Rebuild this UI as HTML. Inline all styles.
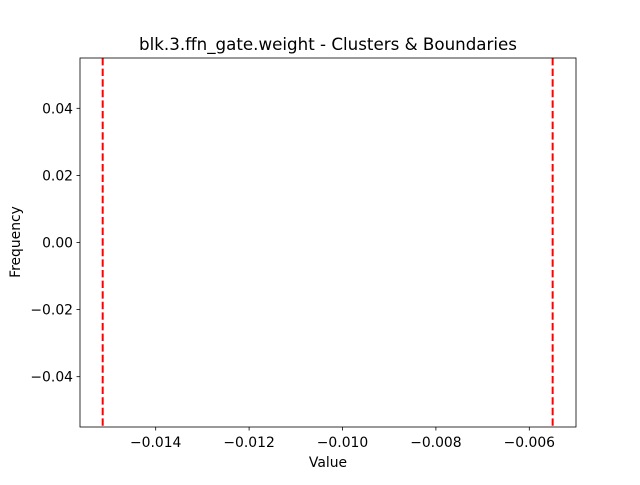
<!DOCTYPE html>
<html><head><meta charset="utf-8"><style>
body{margin:0;background:#fff}
svg text{font-family:"DejaVu Sans","Liberation Sans",sans-serif;fill:#000}
</style></head><body>
<svg id="chart" width="640" height="480" viewBox="0 0 640 480" xmlns="http://www.w3.org/2000/svg">
<rect width="640" height="480" fill="#fff"/>
<text x="328" y="50" font-size="16.7" text-anchor="middle">blk.3.ffn_gate.weight - Clusters &amp; Boundaries</text>
<g id="plot"></g>
<rect x="80" y="58" width="496" height="369" fill="none" stroke="#000" stroke-width="0.8"/>
<text x="328" y="467" font-size="13.9" text-anchor="middle">Value</text>
<text transform="translate(20,242) rotate(-90)" font-size="13.9" text-anchor="middle">Frequency</text>
</svg>
<script>
const xTicks=[-0.014,-0.012,-0.010,-0.008,-0.006];
const xTickLabels=["\u22120.014","\u22120.012","\u22120.010","\u22120.008","\u22120.006"];
const yTicks=[0.04,0.02,0.00,-0.02,-0.04];
const yTickLabels=["0.04","0.02","0.00","\u22120.02","\u22120.04"];
const boundaries=[-0.015135,-0.0055];
const xMin=-0.015621,xMax=-0.005,yMin=-0.055,yMax=0.055;
const L=80,R=576,T=58,B=427;
const xs=v=>L+(v-xMin)/(xMax-xMin)*(R-L);
const ys=v=>B-(v-yMin)/(yMax-yMin)*(B-T);
const g=document.getElementById('plot');
const NS="http://www.w3.org/2000/svg";
function mk(t,a){const e=document.createElementNS(NS,t);for(const k in a)e.setAttribute(k,a[k]);g.appendChild(e);return e;}
xTicks.forEach((v,i)=>{const x=xs(v);
const t=mk('line',{x1:x,x2:x,y1:B,y2:B+3.5,stroke:'#000','stroke-width':0.8});


const l=mk('text',{x:x,y:B+20,'font-size':13.9,'text-anchor':'middle'});l.textContent=xTickLabels[i];

});
yTicks.forEach((v,i)=>{const y=ys(v);
const t=mk('line',{x1:L-3.5,x2:L,y1:y,y2:y,stroke:'#000','stroke-width':0.8});


const l=mk('text',{x:L-7,y:y+5,'font-size':13.9,'text-anchor':'end'});l.textContent=yTickLabels[i];

});
boundaries.forEach(v=>{const x=xs(v);
const ln=mk('line',{x1:x,x2:x,y1:T,y2:B,stroke:'#ff0000','stroke-width':2,'stroke-dasharray':'7.4,3.2'});

});
</script>
</body></html>
